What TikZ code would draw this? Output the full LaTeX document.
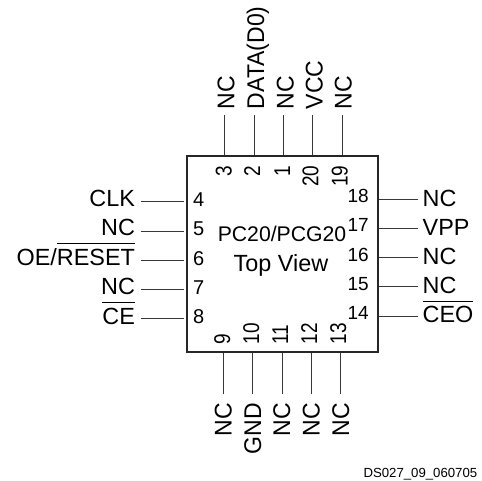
\documentclass[tikz,border=0pt]{standalone}
\usepackage{graphicx}
\usepackage{fontspec}
\setmainfont{Liberation Sans}
\newcommand{\fsz}[1]{\fontsize{#1}{#1}\selectfont}
\newcommand{\ovl}[1]{\setbox0\hbox{#1}\rlap{\rule[21pt]{\wd0}{0.8pt}}\box0}
\newcommand{\oereset}{OE/\ovl{RESET}}
\newcommand{\tallnum}[1]{\scalebox{1}[1.2]{#1}}
\newcommand{\talllbl}[1]{\scalebox{1}[1.05]{#1}}
\tikzset{
  lbl/.style={inner sep=0pt,outer sep=0pt,font=\fsz{23.4}},
  rotlbl/.style={inner sep=0pt,outer sep=0pt,font=\fsz{23}},
  num/.style={inner sep=0pt,outer sep=0pt,font=\fsz{19}},
  wire/.style={line width=1pt,draw=black!78},
  chipbox/.style={draw=black!85,line width=2pt,inner sep=0pt,minimum width=191.5pt,minimum height=196pt}
}
\begin{document}
\begin{tikzpicture}[x=1pt,y=-1pt]
\useasboundingbox (0,0) rectangle (482,480);
\node[chipbox] (chip) at (282.25,254) {};
% top side
\foreach \n/\t/\px/\lx/\nx in {3/NC/224.7/234.3/231.7,2/DATA(D0)/254/264/260,1/NC/283/293.7/290,20/VCC/312.7/322.7/318.3,19/NC/342/351.7/347.7}{
  \node[rotlbl,rotate=90,anchor=base west] (tl\n) at (\lx,109) {\talllbl{\t}};
  \node[num,rotate=90,anchor=base east] (tn\n) at (\nx,165.5) {\tallnum{\n}};
  \coordinate (tp\n) at (\px,115);
  \draw[wire] (tp\n) -- (tp\n |- chip.north);
}
% bottom side
\foreach \n/\t/\px/\lx/\nx in {9/NC/223.7/231.7/230,10/GND/252.7/261/259,11/NC/282/290/288,12/NC/311/319.7/317,13/NC/340.3/349/346}{
  \node[rotlbl,rotate=90,anchor=base east] (bl\n) at (\lx,403) {\talllbl{\t}};
  \node[num,rotate=90,anchor=base west] (bn\n) at (\nx,344.5) {\tallnum{\n}};
  \coordinate (bp\n) at (\px,394);
  \draw[wire] (bp\n) -- (bp\n |- chip.south);
}
% left side
\foreach \n/\t/\py/\ly/\ny in {4/CLK/201.7/206/206,5/NC/231/235.7/235.7,6/\oereset/260/265/265,7/NC/289.5/294/294,8/\ovl{CE}/318.5/324/323.7}{
  \node[lbl,anchor=base east] (ll\n) at (135,\ly) {\t};
  \node[num,font=\fsz{20},anchor=base west] (ln\n) at (193,\ny) {\n};
  \coordinate (lp\n) at (141,\py);
  \coordinate (lq\n) at (184,\py);
  \draw[wire] (lp\n) -- (lq\n);
}
% right side
\foreach \n/\t/\py/\ly/\ny in {18/NC/199/206/202.3,17/VPP/228.3/235/231.7,16/NC/257.5/264/261.7,15/NC/286.7/293.7/290.7,14/\ovl{CEO}/316/322.7/319.3}{
  \node[lbl,anchor=base west] (rl\n) at (422.7,\ly) {\t};
  \node[num,anchor=base east] (rn\n) at (368.7,\ny) {\n};
  \coordinate (rp\n) at (418,\py);
  \draw[wire] (rp\n) -- (rp\n -| chip.east);
}
\node[inner sep=0pt,anchor=base,font=\fsz{21.2}] (title) at (282,241.7) {PC20/PCG20};
\node[inner sep=0pt,anchor=base,font=\fsz{23.4}] (view) at (281,271.7) {Top View};
\node[inner sep=0pt,anchor=base west,font=\fsz{13.2}] (ds) at (363.3,477.7) {DS027\_09\_060705};
\end{tikzpicture}
\end{document}
